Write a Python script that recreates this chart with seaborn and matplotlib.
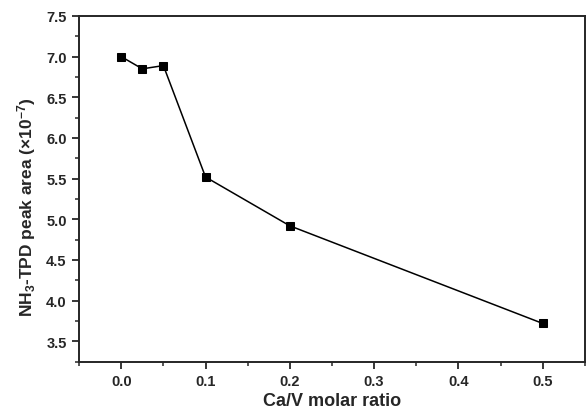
import matplotlib
matplotlib.use("Agg")
import matplotlib.pyplot as plt
import seaborn as sns
import pandas as pd
from matplotlib.ticker import MultipleLocator

# Ca/V ratio vs NH3-TPD peak area
ca_v_ratio = [0.0, 0.025, 0.05, 0.1, 0.2, 0.5]
peak_area = [7.00, 6.85, 6.89, 5.52, 4.92, 3.72]

df = pd.DataFrame({"ratio": ca_v_ratio, "area": peak_area})

sns.set_style("ticks")
plt.rcParams['font.family'] = ['Liberation Sans', 'DejaVu Sans']
plt.rcParams['font.weight'] = 'bold'
plt.rcParams['mathtext.fontset'] = 'custom'
plt.rcParams['mathtext.rm'] = 'Liberation Sans:bold'
plt.rcParams['mathtext.bf'] = 'Liberation Sans:bold'
plt.rcParams['mathtext.default'] = 'bf'

fig = plt.figure(figsize=(5.86, 4.14), dpi=100)
ax = fig.add_axes([0.135, 0.124, 0.863, 0.835])

sns.lineplot(data=df, x="ratio", y="area", ax=ax, color="black", linewidth=1.1,
             marker="s", markersize=6, markeredgecolor="black", markerfacecolor="black")

ax.set_xlim(-0.05, 0.55)
ax.set_ylim(3.25, 7.5)
ax.xaxis.set_major_locator(MultipleLocator(0.1))
ax.xaxis.set_minor_locator(MultipleLocator(0.05))
ax.yaxis.set_minor_locator(MultipleLocator(0.25))
ax.set_yticks([3.5, 4.0, 4.5, 5.0, 5.5, 6.0, 6.5, 7.0, 7.5])
ax.tick_params(which="major", direction="out", length=5, width=1.3, labelsize=10.5, pad=4)
ax.tick_params(which="minor", direction="out", length=3, width=1.1)
for sp in ax.spines.values():
    sp.set_linewidth(1.4)
    sp.set_visible(True)

for lab in ax.get_xticklabels() + ax.get_yticklabels():
    lab.set_fontweight("bold")

ax.set_xlabel("Ca/V molar ratio", fontsize=13, fontweight="bold", labelpad=3)
ax.set_ylabel("NH$_3$-TPD peak area (×10$^{-7}$)", fontsize=12.5, fontweight="bold")
ax.yaxis.set_label_coords(-0.082, 0.451)

fig.savefig("out.png", dpi=100)
